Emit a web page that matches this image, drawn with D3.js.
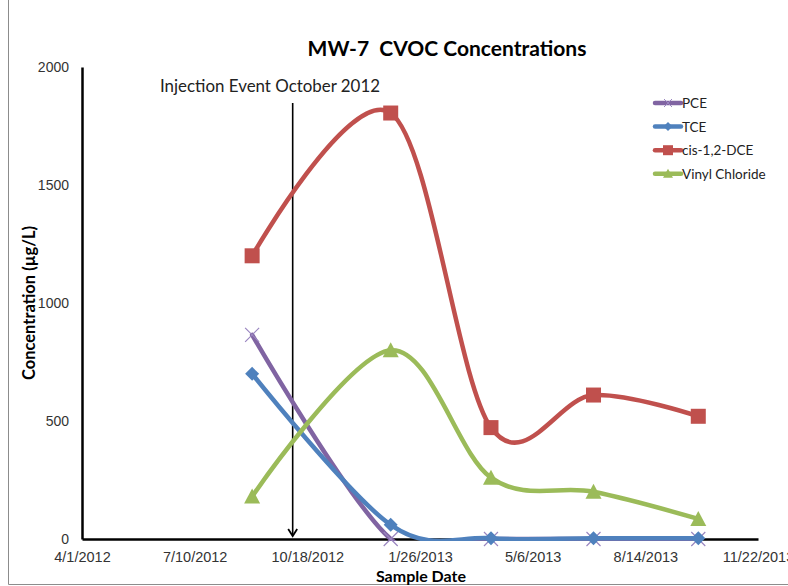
<!DOCTYPE html>
<html>
<head>
<meta charset="utf-8">
<script src="https://cdn.jsdelivr.net/npm/d3@7"></script>
<style>
  body { margin: 0; background: #fff; }
  svg { font-family: Lato, "Open Sans", sans-serif; }
</style>
</head>
<body>
<div id="chart"></div>
<script>
// sample dates and concentrations (ug/L)
const sampleDates = ['2012-08-30', '2012-12-31', '2013-03-30', '2013-06-29', '2013-09-30'];
const pce = [865, 0, 0, 0, 0];
const tce = [700, 60, 3, 3, 3];
const dce = [1200, 1805, 472, 610, 520];
const vc = [180, 800, 260, 200, 85];
const xTickLabels = ['4/1/2012', '7/10/2012', '10/18/2012', '1/26/2013', '5/6/2013', '8/14/2013', '11/22/2013'];
const yTicks = [0, 500, 1000, 1500, 2000];
const injectionDate = '2012-10-05';

const width = 788, height = 586;
const parse = d3.timeParse('%Y-%m-%d');
const parseTick = d3.timeParse('%-m/%-d/%Y');

const svg = d3.select('#chart').append('svg')
  .attr('width', width).attr('height', height);

// outer chart border (left + bottom visible)
svg.append('path')
  .attr('d', `M8.5,0 V584.5 H${width}`)
  .attr('fill', 'none').attr('stroke', '#8c8c8c').attr('stroke-width', 1);

const x = d3.scaleTime()
  .domain([parseTick('4/1/2012'), parseTick('11/22/2013')])
  .range([82, 758]);
const y = d3.scaleLinear().domain([0, 2000]).range([539, 67]);

// plot-area clip, like the spreadsheet does for smoothed lines
svg.append('clipPath').attr('id', 'plot')
  .append('rect').attr('x', 82).attr('y', 60).attr('width', 700).attr('height', 541 - 60);

// axes
const yAxis = svg.append('g').attr('transform', 'translate(82,0)')
  .call(d3.axisLeft(y).tickValues(yTicks).tickFormat(d3.format('d')).tickSize(0).tickPadding(13));
yAxis.select('.domain').attr('stroke', '#000').attr('stroke-width', 2.5);
yAxis.selectAll('text').attr('font-size', 14).attr('fill', '#333').attr('font-family', null);

const xAxis = svg.append('g').attr('transform', 'translate(0,539)')
  .call(d3.axisBottom(x).tickValues(xTickLabels.map(parseTick))
    .tickFormat((d, i) => xTickLabels[i]).tickSize(0).tickPadding(13));
xAxis.select('.domain').attr('stroke', '#000').attr('stroke-width', 2.5);
xAxis.selectAll('text').attr('font-size', 14.5).attr('fill', '#333').attr('font-family', null);

// titles
svg.append('text').attr('x', 447).attr('y', 56).attr('text-anchor', 'middle')
  .attr('font-size', 21).attr('font-weight', 'bold').attr('xml:space', 'preserve')
  .text('MW-7  CVOC Concentrations');
svg.append('text').attr('x', 421).attr('y', 582).attr('text-anchor', 'middle')
  .attr('font-size', 16).attr('font-weight', 'bold').text('Sample Date');
svg.append('text').attr('transform', 'translate(35,303) rotate(-90)')
  .attr('text-anchor', 'middle').attr('font-size', 16.5).attr('font-weight', 'bold')
  .text('Concentration (µg/L)');

// injection event annotation
const ix = x(parse(injectionDate));
svg.append('line')
  .attr('x1', ix).attr('x2', ix).attr('y1', 103).attr('y2', 535)
  .attr('stroke', '#000').attr('stroke-width', 1.6);
svg.append('path')
  .attr('d', `M${ix - 4.5},${529} L${ix},${536} L${ix + 4.5},${529}`)
  .attr('fill', 'none').attr('stroke', '#000').attr('stroke-width', 1.8);
svg.append('text').attr('x', 160).attr('y', 92).attr('font-size', 16.9).attr('fill', '#222')
  .text('Injection Event October 2012');

// series
const series = [
  {name: 'PCE', values: pce, color: '#8064A2', marker: 'x'},
  {name: 'TCE', values: tce, color: '#4F81BD', marker: 'diamond'},
  {name: 'cis-1,2-DCE', values: dce, color: '#C0504D', marker: 'square'},
  {name: 'Vinyl Chloride', values: vc, color: '#9BBB59', marker: 'triangle'}
];

const line = d3.line()
  .x(d => x(d.date)).y(d => y(d.v))
  .curve(d3.curveCardinal.tension(0));

function drawMarker(g, type, color) {
  if (type === 'x') {
    g.append('path').attr('d', 'M-7,-7 L7,7 M-7,7 L7,-7')
      .attr('fill', 'none').attr('stroke', '#9a86c0').attr('stroke-width', 1.2);
  } else if (type === 'diamond') {
    g.append('path').attr('d', 'M0,-7 L7,0 L0,7 L-7,0 Z').attr('fill', color);
  } else if (type === 'square') {
    g.append('rect').attr('x', -7.5).attr('y', -7.5).attr('width', 15).attr('height', 15)
      .attr('fill', color);
  } else {
    g.append('path').attr('d', 'M0,-8 L8,7 L-8,7 Z').attr('fill', color);
  }
}

series.forEach(s => {
  const pts = s.values.map((v, i) => ({date: parse(sampleDates[i]), v}));
  const g = svg.append('g');
  g.append('path').datum(pts).attr('d', line)
    .attr('clip-path', 'url(#plot)')
    .attr('fill', 'none').attr('stroke', s.color).attr('stroke-width', 4.5)
    .attr('stroke-linecap', 'round');
  pts.forEach(p => {
    const mg = g.append('g').attr('transform', `translate(${x(p.date)},${y(p.v)})`);
    drawMarker(mg, s.marker, s.color);
  });
});

// legend
const legend = svg.append('g').attr('transform', 'translate(655,103)');
series.forEach((s, i) => {
  const row = legend.append('g').attr('transform', `translate(0,${i * 23.6})`);
  row.append('line').attr('x1', 0).attr('x2', 26).attr('y1', 0).attr('y2', 0)
    .attr('stroke', s.color).attr('stroke-width', 4.5).attr('stroke-linecap', 'round');
  const mg = row.append('g').attr('transform', 'translate(13,0)');
  if (s.marker === 'x') {
    mg.append('path').attr('d', 'M-4,-4 L4,4 M-4,4 L4,-4')
      .attr('fill', 'none').attr('stroke', '#9a86c0').attr('stroke-width', 1);
  } else if (s.marker === 'diamond') {
    mg.append('path').attr('d', 'M0,-4.5 L4.5,0 L0,4.5 L-4.5,0 Z').attr('fill', s.color);
  } else if (s.marker === 'square') {
    mg.append('rect').attr('x', -5).attr('y', -5).attr('width', 10).attr('height', 10).attr('fill', s.color);
  } else {
    mg.append('path').attr('d', 'M0,-5 L5,4 L-5,4 Z').attr('fill', s.color);
  }
  row.append('text').attr('x', 27).attr('y', 5).attr('font-size', 13.5).attr('fill', '#222')
    .text(s.name);
});
</script>
</body>
</html>
